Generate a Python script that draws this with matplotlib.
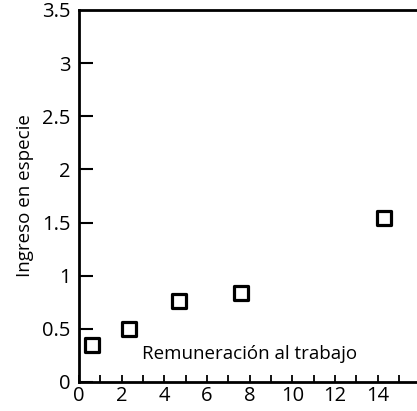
import matplotlib.pyplot as plt
from matplotlib.ticker import MultipleLocator

plt.rcParams['font.family'] = ['Open Sans', 'DejaVu Sans']

remuneracion = [0.6, 2.35, 4.7, 7.6, 14.3]
especie = [0.35, 0.5, 0.76, 0.84, 1.54]

fig = plt.figure(figsize=(4.17, 4.11), dpi=100)
ax = fig.add_axes([0.1894, 0.0706, 0.8106, 0.9051])

ax.scatter(remuneracion, especie, marker='s', s=110, facecolors='white',
           edgecolors='black', linewidths=2.3, zorder=3)

ax.set_xlim(0, 15.85)
ax.set_ylim(0, 3.5)
ax.set_xticks(range(0, 15, 2))
ax.xaxis.set_minor_locator(MultipleLocator(1))
ax.set_yticks([0, 0.5, 1, 1.5, 2, 2.5, 3, 3.5])
ax.set_yticklabels(['0', '0.5', '1', '1.5', '2', '2.5', '3', '3.5'])

ax.spines['right'].set_visible(False)
for s in ['left', 'bottom', 'top']:
    ax.spines[s].set_linewidth(2)

ax.tick_params(axis='x', which='both', direction='in', length=5, width=1.3,
               labelsize=14.5, pad=3)
ax.tick_params(axis='y', direction='in', length=10, width=1.5, labelsize=14.5, pad=6)
ax.yaxis.get_major_ticks()[-1].tick1line.set_visible(False)

ax.text(8.0, 0.26, 'Remuneración al trabajo', fontsize=13.5, ha='center', va='center')
ax.set_ylabel('Ingreso en especie', fontsize=13.5, labelpad=6)

fig.savefig('out.png', dpi=100)
